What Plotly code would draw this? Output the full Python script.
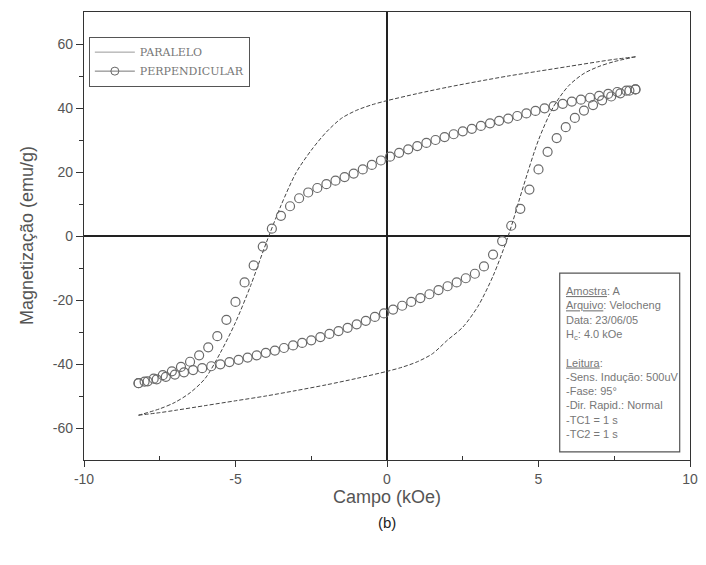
import plotly.graph_objects as go

# PARALELO (dashed line), upper branch (H decreasing) and lower branch (H increasing)
par_up_h = [8.2, 7.5, 7.0, 6.0, 5.0, 4.0, 3.0, 2.0, 1.0, 0.0, -0.5, -1.0, -1.5, -2.0, -2.5,
            -3.0, -3.5, -4.0, -4.5, -5.0, -5.5, -6.0, -6.5, -7.0, -7.5, -8.2]
par_up_m = [56, 55.2, 54.5, 53.0, 51.5, 50.0, 48.3, 46.5, 44.5, 42.3, 41.0, 39.3, 36.8, 32.5, 26.8,
            19.8, 9.5, -2.5, -15.5, -27.0, -36.5, -44.5, -49.0, -52.0, -54.0, -56]
par_lo_h = [-8.2, -7.5, -7.0, -6.0, -5.0, -4.0, -3.0, -2.0, -1.0, 0.0, 0.5, 1.0, 1.5, 2.0, 2.5,
            3.0, 3.5, 4.0, 4.5, 5.0, 5.5, 6.0, 6.5, 7.0, 7.5, 8.2]
par_lo_m = [-56, -55.2, -54.5, -53.0, -51.5, -50.0, -48.3, -46.5, -44.5, -42.3, -41.0, -39.3, -36.8, -32.5, -28.5,
            -22.0, -12.5, 0.0, 15.5, 30.0, 40.5, 47.0, 50.8, 53.0, 54.5, 56]

# PERPENDICULAR (open circles)
per_up_h = [8.2, 7.9, 7.6, 7.3, 7.0, 6.7, 6.4, 6.1, 5.8, 5.5, 5.2, 4.9, 4.6, 4.3, 4.0, 3.7, 3.4, 3.1,
            2.8, 2.5, 2.2, 1.9, 1.6, 1.3, 1.0, 0.7, 0.4, 0.1, -0.2, -0.5, -0.8, -1.1, -1.4, -1.7,
            -2.0, -2.3, -2.6, -2.9, -3.2, -3.5, -3.8, -4.1, -4.4, -4.7, -5.0, -5.3, -5.6, -5.9,
            -6.2, -6.5, -6.8, -7.1, -7.4, -7.7, -8.0, -8.2]
per_up_m = [45.8, 45.4, 45.0, 44.4, 43.8, 43.2, 42.6, 42.0, 41.3, 40.6, 39.9, 39.1, 38.3, 37.5, 36.7,
            36.0, 35.2, 34.4, 33.5, 32.7, 31.8, 30.9, 30.0, 29.1, 28.1, 27.1, 26.0, 24.8, 23.6, 22.2,
            20.8, 19.5, 18.4, 17.3, 16.2, 15.0, 13.6, 11.8, 9.3, 6.3, 2.3, -3.3, -9.2, -14.5, -20.6,
            -26.2, -31.3, -34.8, -37.3, -39.3, -40.9, -42.3, -43.5, -44.6, -45.5, -46.0]
per_lo_h = [-8.2, -7.9, -7.6, -7.3, -7.0, -6.7, -6.4, -6.1, -5.8, -5.5, -5.2, -4.9, -4.6, -4.3, -4.0,
            -3.7, -3.4, -3.1, -2.8, -2.5, -2.2, -1.9, -1.6, -1.3, -1.0, -0.7, -0.4, -0.1, 0.2, 0.5,
            0.8, 1.1, 1.4, 1.7, 2.0, 2.3, 2.6, 2.9, 3.2, 3.5, 3.8, 4.1, 4.4, 4.7, 5.0, 5.3, 5.6, 5.9,
            6.2, 6.5, 6.8, 7.1, 7.4, 7.7, 8.0, 8.2]
per_lo_m = [-46.0, -45.4, -44.8, -44.0, -43.3, -42.6, -41.9, -41.3, -40.7, -40.1, -39.4, -38.7, -38.0,
            -37.3, -36.5, -35.8, -35.0, -34.2, -33.4, -32.6, -31.6, -30.6, -29.7, -28.7, -27.6, -26.5,
            -25.3, -24.2, -23.0, -21.8, -20.6, -19.4, -18.2, -16.9, -15.7, -14.5, -13.2, -11.8, -9.5,
            -5.8, -1.6, 3.2, 8.5, 14.5, 20.8, 26.3, 30.6, 34.0, 36.9, 39.2, 40.9, 42.4, 43.6, 44.6,
            45.4, 45.8]

x_ticks = [-10, -5, 0, 5, 10]
x_labels = ["-10", "-5", "0", "5", "10"]
y_ticks = [-60, -40, -20, 0, 20, 40, 60]
y_labels = ["-60", "-40", "-20", "0", "20", "40", "60"]

info_lines = ["<u>Amostra</u>: A", "<u>Arquivo</u>: Velocheng", "Data: 23/06/05", "H<sub>c</sub>: 4.0 kOe",
              "", "<u>Leitura</u>:", "-Sens. Indução: 500uV", "-Fase: 95°", "-Dir. Rapid.: Normal",
              "-TC1 = 1 s", "-TC2 = 1 s"]

GREY = "#555555"
fig = go.Figure()

for hx, my in [(par_up_h, par_up_m), (par_lo_h, par_lo_m)]:
    fig.add_trace(go.Scatter(x=hx, y=my, mode="lines", showlegend=False,
                             line=dict(color="#444444", width=1, dash="4px,2px", shape="spline", smoothing=0.8)))
for hx, my in [(per_up_h, per_up_m), (per_lo_h, per_lo_m)]:
    fig.add_trace(go.Scatter(x=hx, y=my, mode="markers", showlegend=False,
                             marker=dict(symbol="circle-open", size=9, color="#6a6a6a",
                                         line=dict(width=1.2, color="#6a6a6a"))))

# legend entries
fig.add_trace(go.Scatter(x=[None], y=[None], mode="lines", name="PARALELO",
                         line=dict(color="#999999", width=1)))
fig.add_trace(go.Scatter(x=[None], y=[None], mode="lines+markers", name="PERPENDICULAR",
                         line=dict(color="#777777", width=1),
                         marker=dict(symbol="circle-open", size=8, color="#666666")))

fig.add_shape(type="rect", xref="paper", yref="paper", x0=0.785, x1=0.983, y0=0.018, y1=0.417,
              line=dict(color="#555555", width=1.2), fillcolor="rgba(0,0,0,0)")
fig.add_annotation(xref="paper", yref="paper", x=0.792, y=0.394, xanchor="left", yanchor="top",
                   text="<br>".join(info_lines), showarrow=False, align="left",
                   font=dict(family="Arial", size=11, color="#777777"))
fig.add_annotation(xref="paper", yref="paper", x=0.5, y=-0.1406, xanchor="center", yanchor="middle",
                   text="(b)", showarrow=False, font=dict(family="Arial", size=15, color="#222222"))
fig.add_annotation(xref="paper", yref="paper", x=-0.094, y=0.5, xanchor="center", yanchor="middle",
                   textangle=-90, text="Magnetização (emu/g)", showarrow=False,
                   font=dict(family="Arial", size=18, color=GREY))

fig.update_layout(
    width=706, height=565,
    margin=dict(l=84, r=16, t=12, b=105),
    paper_bgcolor="white", plot_bgcolor="white",
    font=dict(family="Arial", color=GREY),
    legend=dict(x=0.008, y=0.945, xanchor="left", yanchor="top", bgcolor="white",
                bordercolor="#555555", borderwidth=1,
                font=dict(family="DejaVu Serif", size=11, color="#777777"),
                tracegroupgap=0, itemwidth=40),
    xaxis=dict(range=[-10, 10], tickvals=x_ticks, ticktext=x_labels, ticks="outside", ticklen=6,
               tickcolor="#333", automargin=False,
               showline=True, linecolor="#333333", linewidth=1.2, mirror=True,
               showgrid=False, zeroline=True, zerolinecolor="#222222", zerolinewidth=1.5,
               tickfont=dict(size=14, color=GREY),
               minor=dict(tickvals=[-7.5, -2.5, 2.5, 7.5], ticks="inside", ticklen=4, tickcolor="#333"),
               title=dict(text="Campo (kOe)", font=dict(size=18, color=GREY), standoff=4)),
    yaxis=dict(range=[-70, 70], tickvals=y_ticks, ticktext=y_labels, ticks="outside", ticklen=7,
               tickcolor="#333", automargin=False,
               showline=True, linecolor="#333333", linewidth=1.2, mirror=True,
               showgrid=False, zeroline=True, zerolinecolor="#222222", zerolinewidth=1.5,
               tickfont=dict(size=14, color=GREY),
               minor=dict(tickvals=[-50, -30, -10, 10, 30, 50], ticks="outside", ticklen=4, tickcolor="#333")),
)

fig.write_html("out.html", config={"displayModeBar": False},
               post_script="document.body.style.margin='0';")
